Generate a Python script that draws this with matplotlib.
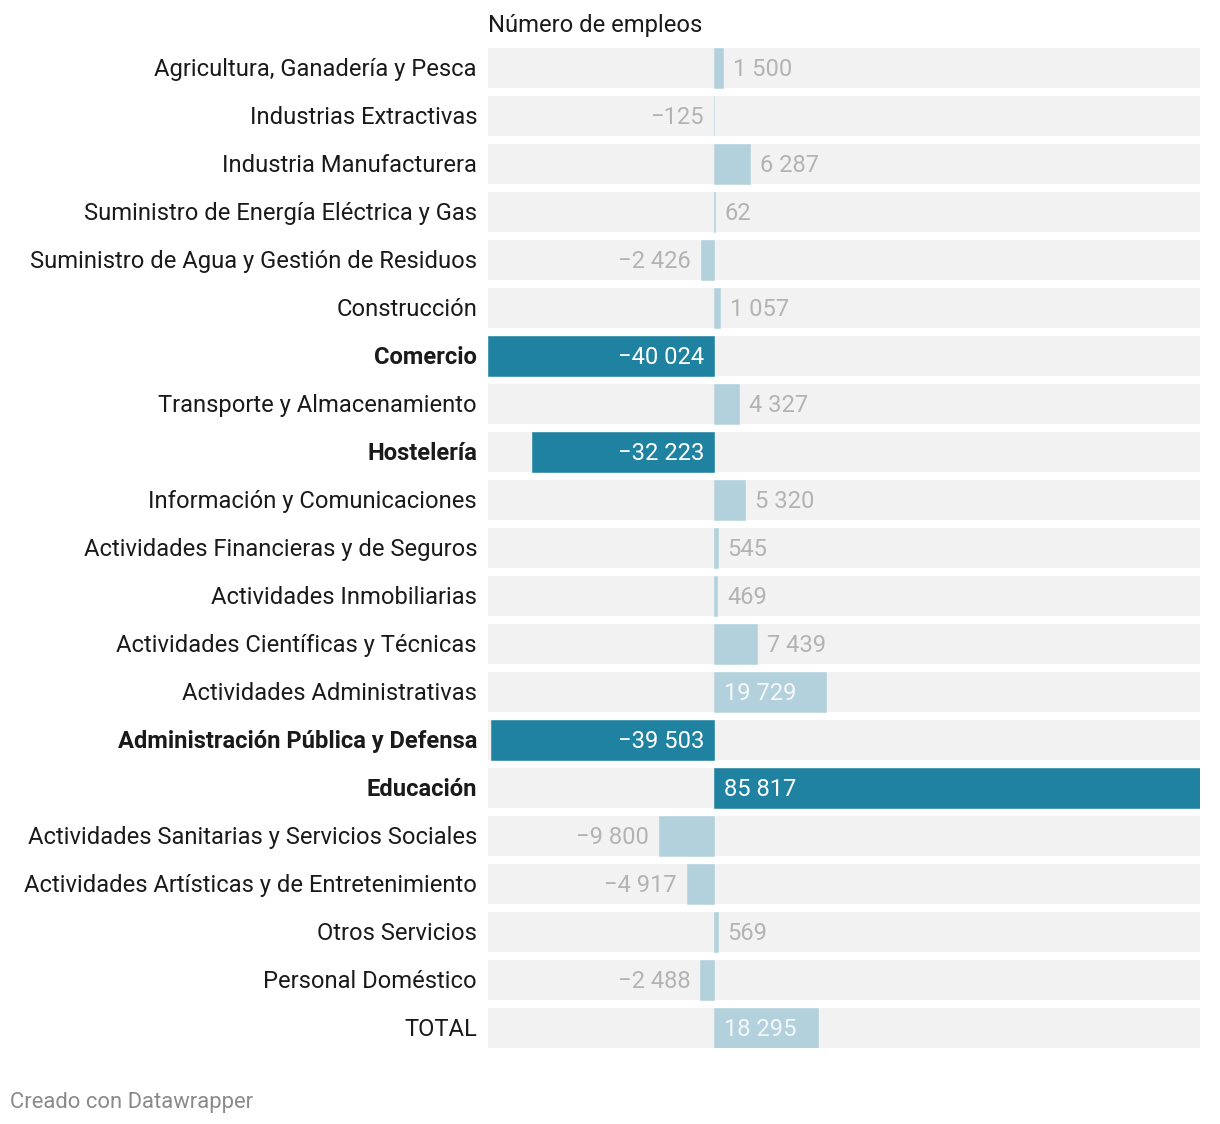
import matplotlib
matplotlib.use("Agg")
import matplotlib.pyplot as plt
import matplotlib.transforms as mtransforms

plt.rcParams['font.family'] = ['Roboto', 'DejaVu Sans']

# data
sectores = [
    "Agricultura, Ganadería y Pesca",
    "Industrias Extractivas",
    "Industria Manufacturera",
    "Suministro de Energía Eléctrica y Gas",
    "Suministro de Agua y Gestión de Residuos",
    "Construcción",
    "Comercio",
    "Transporte y Almacenamiento",
    "Hostelería",
    "Información y Comunicaciones",
    "Actividades Financieras y de Seguros",
    "Actividades Inmobiliarias",
    "Actividades Científicas y Técnicas",
    "Actividades Administrativas",
    "Administración Pública y Defensa",
    "Educación",
    "Actividades Sanitarias y Servicios Sociales",
    "Actividades Artísticas y de Entretenimiento",
    "Otros Servicios",
    "Personal Doméstico",
    "TOTAL",
]
empleos = [1500, -125, 6287, 62, -2426, 1057, -40024, 4327, -32223, 5320,
           545, 469, 7439, 19729, -39503, 85817, -9800, -4917, 569, -2488, 18295]
destacados = ["Comercio", "Hostelería", "Administración Pública y Defensa", "Educación"]

dark = "#1f82a1"
light = "#b3d1dc"
band = "#f2f2f2"
gray_lbl = "#b3b3b3"

fig = plt.figure(figsize=(12.2, 11.24), dpi=100)
W, H = 1220, 1124
ax = fig.add_axes([488 / W, 76 / H, 712 / W, 1000 / H])

xmin, xmax = min(empleos), max(empleos)
n = len(sectores)
bh = 40 / 48
ypos = list(range(n))

ax.barh(ypos, [xmax - xmin] * n, left=xmin, height=bh, color=band, zorder=1)
colors = [dark if s in destacados else light for s in sectores]
ax.barh(ypos, empleos, height=bh, color=colors, edgecolor=colors, linewidth=0.4, zorder=2)

ax.set_xlim(xmin, xmax)
ax.set_ylim(n - 1 + 20 / 48, -20 / 48)
ax.axis("off")

def fmt(v):
    return f"{v:,}".replace(",", " ").replace("-", "\u2212")

fs = 17.1
up = mtransforms.ScaledTranslation(0, 1 / 100, fig.dpi_scale_trans)
lbl_tr = mtransforms.blended_transform_factory(fig.transFigure, ax.transData) + up
for i, (s, v) in enumerate(zip(sectores, empleos)):
    hl = s in destacados
    fig.text(477 / W, i, s, transform=lbl_tr,
             ha="right", va="center_baseline", fontsize=fs, color="#1a1a1a",
             fontweight="bold" if hl else "normal")
    ha = "left" if v >= 0 else "right"
    off = mtransforms.ScaledTranslation((10 if v >= 0 else -10) / 100, 1 / 100, fig.dpi_scale_trans)
    if abs(v) > 15000:
        col = "white" if hl else "#f4f8fa"
        ax.text(0, i, fmt(v), transform=ax.transData + off, ha=ha, va="center_baseline",
                fontsize=fs, color=col, zorder=3)
    else:
        ax.text(v, i, fmt(v), transform=ax.transData + off, ha=ha, va="center_baseline",
                fontsize=fs, color=gray_lbl, zorder=3)

fig.text(488 / W, 1 - 23 / H, "Número de empleos", ha="left", va="center_baseline",
         fontsize=fs, color="#1a1a1a")
fig.text(10 / W, 1 - 1100 / H, "Creado con Datawrapper", ha="left", va="center_baseline",
         fontsize=15.8, color="#8a8a8a")

fig.savefig("out.png", dpi=100)
